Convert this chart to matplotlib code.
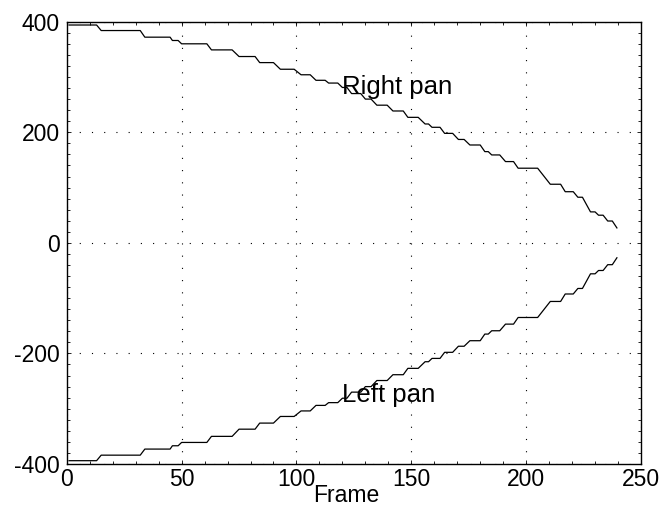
import matplotlib
matplotlib.use("Agg")
import matplotlib.pyplot as plt
from matplotlib.ticker import MultipleLocator

# polyline vertices (frame, pan value)
frames = [1, 13, 15, 32, 34, 45, 46, 48.5, 50, 61, 63, 72, 75, 82, 84, 90,
          93, 99, 102, 106, 108.5, 112.5, 114, 118, 120, 122, 124, 128, 130,
          132.5, 135, 139.5, 142, 146.5, 148.5, 153, 156, 157.5, 159, 162.5,
          164.5, 168, 170.5, 173, 175.5, 180, 182, 183.5, 185, 188.5, 191,
          194.5, 196.5, 205, 210.5, 215, 217, 220.5, 222.5, 224.5, 228, 230,
          231.5, 233.5, 235.5, 237.5, 239.5]
right_pan = [394, 394, 384, 384, 372, 372, 366, 366, 360, 360, 349, 349, 337,
             337, 326, 326, 314, 314, 304, 304, 294, 294, 289, 289, 281, 281,
             270, 270, 260, 260, 249, 249, 238.5, 238.5, 227, 227, 215, 215,
             209, 209, 198, 198, 187, 187, 177, 177, 165, 165, 159, 159, 147,
             147, 135, 135, 106, 106, 92.5, 92.5, 82.5, 82.5, 56, 56, 50, 50,
             39.5, 39.5, 27]
left_pan = [-394, -394, -384, -384, -373, -373, -367, -367, -361, -361, -350,
            -350, -337, -337, -326, -326, -314, -314, -304, -304, -294, -294,
            -289, -289, -281, -281, -270, -270, -260, -260, -249, -249, -238.5,
            -238.5, -227, -227, -215, -215, -209, -209, -198, -198, -187, -187,
            -177, -177, -165, -165, -159, -159, -147, -147, -135, -135, -106,
            -106, -92.5, -92.5, -82.5, -82.5, -56, -56, -50, -50, -39.5, -39.5,
            -27]

x_ticks = [0, 50, 100, 150, 200, 250]
y_ticks = [-400, -200, 0, 200, 400]

plt.rcParams['font.family'] = ['Liberation Sans', 'DejaVu Sans']
plt.rcParams['axes.unicode_minus'] = False

fig = plt.figure(figsize=(6.64, 5.08), dpi=100, facecolor='white')
ax = fig.add_axes([0.1005, 0.0866, 0.8649, 0.8707])

ax.plot(frames, right_pan, color='black', linewidth=0.9)
ax.plot(frames, left_pan, color='black', linewidth=0.9)

ax.text(120, 270, 'Right pan', fontsize=18.5, ha='left', va='baseline')
ax.text(120, -287, 'Left pan', fontsize=18.5, ha='left', va='baseline')

ax.set_xlim(0, 250)
ax.set_ylim(-400, 400)
ax.set_xticks(x_ticks)
ax.set_yticks(y_ticks)
ax.xaxis.set_minor_locator(MultipleLocator(10))
ax.yaxis.set_minor_locator(MultipleLocator(20))
ax.tick_params(which='both', direction='in', top=True, right=True,
               width=0.6, color='black')
ax.tick_params(which='major', length=3, labelsize=16.5)
ax.tick_params(which='minor', length=2)
ax.tick_params(axis='y', pad=5)
ax.tick_params(axis='x', pad=3)

ax.grid(True, which='major', color='black', linestyle=(0, (1, 10)),
        linewidth=0.8)

for spine in ax.spines.values():
    spine.set_color('black')
    spine.set_linewidth(1.0)

ax.set_xlabel('Frame', fontsize=16.5)
ax.xaxis.set_label_coords(0.487, -0.045, transform=ax.transAxes)
ax.xaxis.label.set_va('top')

fig.savefig('out.png', dpi=100)
